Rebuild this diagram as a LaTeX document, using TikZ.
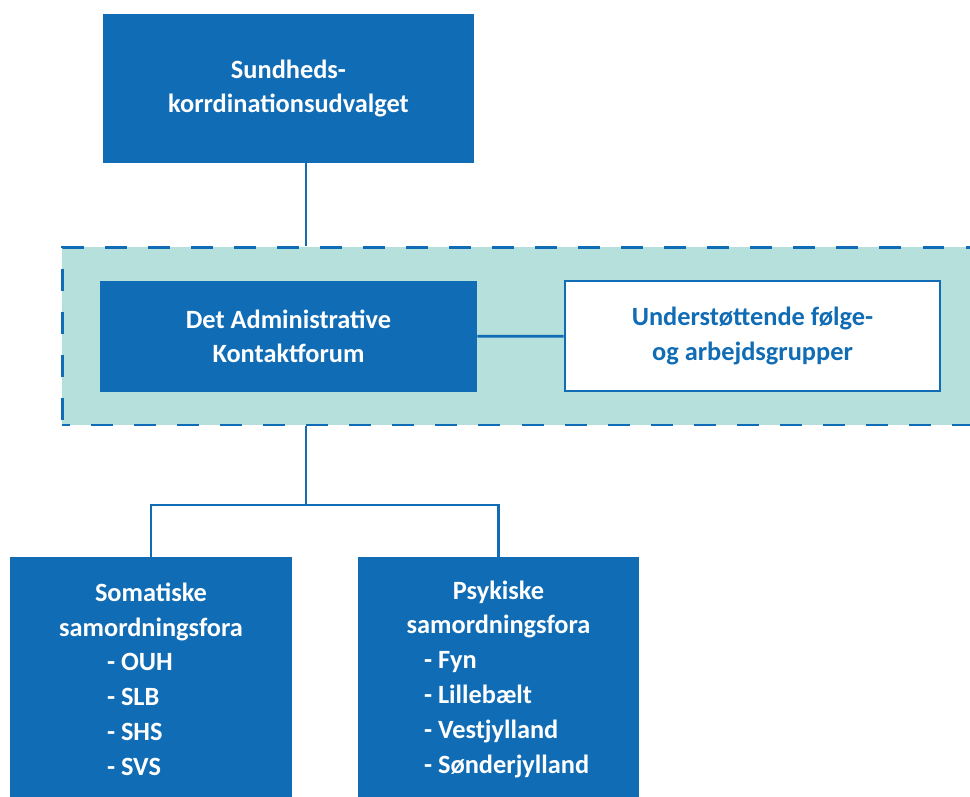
\documentclass[tikz,border=0pt]{standalone}
\usepackage{fontspec}
\setmainfont{Carlito}
\usetikzlibrary{positioning}
\definecolor{orgblue}{RGB}{16,108,180}
\definecolor{bandteal}{RGB}{182,224,220}
\newcommand\foraitem[2]{\makebox[#1][l]{- #2}}
\tikzset{
  unit/.style={rectangle, fill=orgblue, text=white, align=center, inner sep=0pt,
    font=\fontsize{15}{19.4}\selectfont\bfseries},
  fora/.style={unit, minimum width=5.64cm, minimum height=4.88cm,
    font=\fontsize{15}{19.8}\selectfont\bfseries},
  helper/.style={rectangle, fill=white, draw=orgblue, line width=1.6pt, text=orgblue,
    align=center, inner sep=0pt, font=\fontsize{15}{19.4}\selectfont\bfseries},
  band/.style={rectangle, fill=bandteal, draw=orgblue, line width=1.7pt,
    dash pattern=on 12.5pt off 12pt, dash phase=8pt, inner sep=0pt},
  link/.style={draw=orgblue, line width=1.6pt}
}
\begin{document}
\begin{tikzpicture}[x=0.02cm,y=-0.02cm]
\clip (0,0) rectangle (970,796);
% dashed area around the contact forum
\node[band, minimum width=18.96cm, minimum height=3.56cm] (area) at (536,336) {};

\node[unit, minimum width=7.42cm, minimum height=2.98cm] (skudv) at (288.5,88.5)
  {Sundheds-\\korrdinationsudvalget};
\node[unit, minimum width=7.54cm, minimum height=2.22cm] (dak) at (288.5,336.5)
  {Det Administrative\\Kontaktforum};
\node[helper, minimum width=7.5cm, minimum height=2.2cm] (grp) at (752.5,336)
  {Understøttende følge-\\og arbejdsgrupper};
\node[fora] (soma) at (151,679)
  {Somatiske\\samordningsfora\\\foraitem{1.76cm}{OUH}\\\foraitem{1.76cm}{SLB}\\
   \foraitem{1.76cm}{SHS}\\\foraitem{1.76cm}{SVS}};
\node[fora] (psyk) at (498.5,679)
  {Psykiske\\samordningsfora\\\foraitem{2.98cm}{Fyn}\\\foraitem{2.98cm}{Lillebælt}\\
   \foraitem{2.98cm}{Vestjylland}\\\foraitem{2.98cm}{Sønderjylland}};

% connectors
\coordinate (spine) at (306,0);
\coordinate (fork) at (306,505);
\draw[link] (skudv.south -| spine) -- (area.north -| spine);
\draw[link] (dak) -- (grp);
\draw[link] (area.south -| fork) -- (fork);
\draw[link] (soma.north) |- (fork) -| (psyk.north);
\end{tikzpicture}
\end{document}
